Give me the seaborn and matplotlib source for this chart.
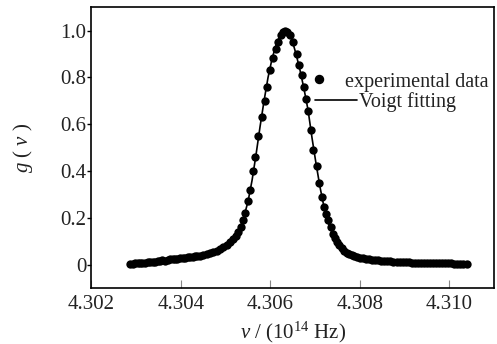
import matplotlib
matplotlib.use("Agg")
import matplotlib.pyplot as plt
import seaborn as sns
import pandas as pd
from matplotlib.lines import Line2D

# ---- data ----
freq = [
    4.302867, 4.302923, 4.302979, 4.303035, 4.303090, 4.303146, 4.303202, 4.303258,
    4.303314, 4.303370, 4.303426, 4.303482, 4.303537, 4.303593, 4.303649, 4.303705,
    4.303761, 4.303817, 4.303873, 4.303928, 4.303984, 4.304040, 4.304096, 4.304152,
    4.304208, 4.304264, 4.304320, 4.304375, 4.304431, 4.304505, 4.304581, 4.304655,
    4.304728, 4.304804, 4.304878, 4.304952, 4.305028, 4.305102, 4.305169, 4.305225,
    4.305280, 4.305336, 4.305385, 4.305437, 4.305497, 4.305549, 4.305622, 4.305660,
    4.305734, 4.305810, 4.305884, 4.305935, 4.305996, 4.306069, 4.306123, 4.306181,
    4.306241, 4.306293, 4.306337, 4.306382, 4.306442, 4.306516, 4.306592, 4.306650,
    4.306704, 4.306755, 4.306807, 4.306851, 4.306905, 4.306963, 4.307039, 4.307097,
    4.307151, 4.307202, 4.307247, 4.307298, 4.307352, 4.307410, 4.307448, 4.307486,
    4.307537, 4.307598, 4.307649, 4.307709, 4.307761, 4.307817, 4.307873, 4.307940,
    4.308007, 4.308074, 4.308141, 4.308208, 4.308275, 4.308342, 4.308409, 4.308476,
    4.308543, 4.308610, 4.308677, 4.308744, 4.308827, 4.308900, 4.308968, 4.309035,
    4.309102, 4.309169, 4.309236, 4.309303, 4.309370, 4.309437, 4.309504, 4.309571,
    4.309638, 4.309705, 4.309772, 4.309839, 4.309906, 4.309973, 4.310040, 4.310107,
    4.310174, 4.310241, 4.310308, 4.310391,
]
g_exp = [
    0.004, 0.004, 0.005, 0.006, 0.006, 0.007, 0.008, 0.010,
    0.011, 0.012, 0.013, 0.015, 0.016, 0.018, 0.017, 0.020,
    0.022, 0.023, 0.022, 0.025, 0.027, 0.029, 0.028, 0.031,
    0.033, 0.034, 0.035, 0.037, 0.036, 0.040, 0.044, 0.048,
    0.053, 0.059, 0.067, 0.075, 0.085, 0.096, 0.108, 0.121,
    0.138, 0.160, 0.190, 0.220, 0.270, 0.320, 0.400, 0.460,
    0.550, 0.633, 0.700, 0.760, 0.830, 0.885, 0.920, 0.950,
    0.980, 0.995, 1.000, 0.993, 0.980, 0.950, 0.900, 0.855,
    0.810, 0.760, 0.710, 0.655, 0.575, 0.490, 0.420, 0.350,
    0.290, 0.245, 0.215, 0.190, 0.160, 0.130, 0.113, 0.098,
    0.083, 0.069, 0.058, 0.049, 0.044, 0.040, 0.036, 0.033,
    0.030, 0.027, 0.025, 0.023, 0.021, 0.020, 0.018, 0.017,
    0.016, 0.015, 0.014, 0.013, 0.012, 0.011, 0.011, 0.010,
    0.010, 0.009, 0.009, 0.008, 0.008, 0.007, 0.007, 0.007,
    0.006, 0.006, 0.006, 0.005, 0.005, 0.005, 0.005, 0.004,
    0.004, 0.004, 0.004, 0.004,
]
fit_freq = [
    4.302867, 4.303537, 4.304096, 4.304431, 4.304766, 4.304990, 4.305146, 4.305280,
    4.305392, 4.305504, 4.305594, 4.305683, 4.305773, 4.305862, 4.305951, 4.306041,
    4.306130, 4.306220, 4.306309, 4.306399, 4.306488, 4.306577, 4.306667, 4.306756,
    4.306846, 4.306935, 4.307025, 4.307114, 4.307203, 4.307293, 4.307405, 4.307517,
    4.307651, 4.307830, 4.308120, 4.308679, 4.309573, 4.310400,
]
g_fit = [
    0.003, 0.013, 0.025, 0.035, 0.053, 0.078, 0.102, 0.140,
    0.190, 0.270, 0.360, 0.470, 0.590, 0.700, 0.800, 0.880,
    0.940, 0.980, 1.000, 0.990, 0.960, 0.900, 0.830, 0.750,
    0.660, 0.540, 0.430, 0.330, 0.245, 0.180, 0.125, 0.088,
    0.060, 0.040, 0.025, 0.012, 0.006, 0.003,
]
x_ticks = [4.302, 4.304, 4.306, 4.308, 4.310]
x_tick_labels = ["4.302", "4.304", "4.306", "4.308", "4.310"]
y_ticks = [0.0, 0.2, 0.4, 0.6, 0.8, 1.0]
y_tick_labels = ["0", "0.2", "0.4", "0.6", "0.8", "1.0"]

df_exp = pd.DataFrame({"v": freq, "g": g_exp})
df_fit = pd.DataFrame({"v": fit_freq, "g": g_fit})

sns.set_theme(style="ticks")
plt.rcParams["font.family"] = ["Liberation Serif", "DejaVu Serif"]
plt.rcParams["mathtext.fontset"] = "custom"
plt.rcParams["mathtext.rm"] = "Liberation Serif"
plt.rcParams["mathtext.it"] = "Liberation Serif:italic"

fig = plt.figure(figsize=(4.97, 3.44), dpi=100)
ax = fig.add_axes([91.2 / 497, 56 / 344, (494 - 91.2) / 497, (288 - 7.3) / 344])

sns.lineplot(data=df_fit, x="v", y="g", ax=ax, color="black", linewidth=1.2,
             sort=True, estimator=None)
sns.scatterplot(data=df_exp, x="v", y="g", ax=ax, color="black", s=36,
                linewidth=0, zorder=3)

ax.set_xlim(4.302, 4.311)
ax.set_ylim(-0.1, 1.1)
ax.set_xticks(x_ticks)
ax.set_xticklabels(x_tick_labels)
ax.set_yticks(y_ticks)
ax.set_yticklabels(y_tick_labels)

ax.tick_params(axis="x", direction="in", length=6, width=0.8, colors="#888888",
               labelcolor="#222222", labelsize=15, pad=5)
ax.tick_params(axis="y", direction="out", length=3, width=1.0, color="black",
               labelcolor="#222222", labelsize=15, pad=0.5)
for sp in ax.spines.values():
    sp.set_visible(True)
    sp.set_linewidth(1.2)
    sp.set_color("black")

ax.set_xlabel(r"$v$ / (10$^{14}$ Hz)", fontsize=15, color="#222222", labelpad=4)
ax.set_ylabel(r"$g$ ( $v$ )", fontsize=15, color="#222222", labelpad=18)

h1 = Line2D([], [], marker="o", linestyle="none", color="black", markersize=5.8)
h2 = Line2D([], [], color="black", linewidth=1.2)
leg1 = ax.legend([h1], ["experimental data"], loc="center left",
                 bbox_to_anchor=(0.5415, 0.734), frameon=False, fontsize=14.5,
                 handlelength=1.0, handletextpad=0.75, borderpad=0, borderaxespad=0)
for t in leg1.get_texts():
    t.set_color("#222222")
ax.add_artist(leg1)
leg2 = ax.legend([h2], ["Voigt fitting"], loc="center left",
                 bbox_to_anchor=(0.5556, 0.6626), frameon=False, fontsize=14.5,
                 handlelength=2.1, handletextpad=0.1, borderpad=0, borderaxespad=0)
for t in leg2.get_texts():
    t.set_color("#222222")

fig.savefig("out.png", dpi=100)
